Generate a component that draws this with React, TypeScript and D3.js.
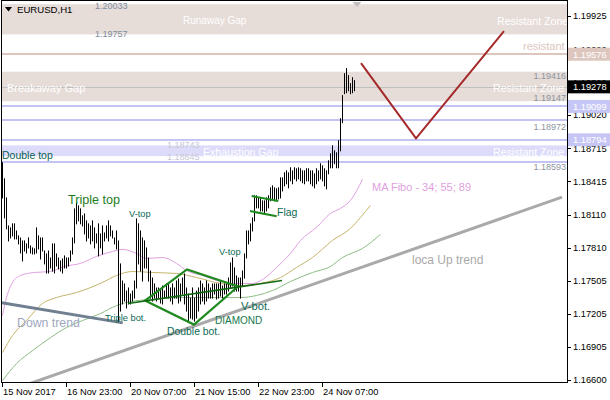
import React from "react";
import * as d3 from "d3";

const TIME_LABELS = ["15 Nov 2017", "16 Nov 23:00", "20 Nov 07:00", "21 Nov 15:00", "22 Nov 23:00", "24 Nov 07:00"];
const TIME_TICK_BARS = [0, 32, 64, 96, 128, 160];
const PRICE_TICKS = [1.19925, 1.1962, 1.1932, 1.1902, 1.18715, 1.18415, 1.1811, 1.1781, 1.17505, 1.17205, 1.16905, 1.166];

const HIGHS = [
  1.18589, 1.18442, 1.18268, 1.18012, 1.17994, 1.18031, 1.18031, 1.17966, 1.17921, 1.17902,
  1.17875, 1.17875, 1.17848, 1.17902, 1.17829, 1.17811, 1.17802, 1.17994, 1.17921, 1.17902,
  1.17902, 1.17783, 1.17756, 1.17783, 1.17719, 1.17848, 1.17848, 1.17756, 1.17719, 1.17692,
  1.1771, 1.17738, 1.17719, 1.17719, 1.17783, 1.17902, 1.18168, 1.18223, 1.18195, 1.18168,
  1.18104, 1.18122, 1.18058, 1.18031, 1.18012, 1.18058, 1.17994, 1.17939, 1.18031, 1.17939,
  1.18012, 1.17948, 1.18012, 1.18058, 1.18012, 1.17966, 1.17902, 1.17966, 1.17875, 1.17665,
  1.17509, 1.17482, 1.17417, 1.17445, 1.1739, 1.17417, 1.17509, 1.18076, 1.18031, 1.17966,
  1.17902, 1.17875, 1.17811, 1.17719, 1.176, 1.17536, 1.17482, 1.17445, 1.17445, 1.17436,
  1.17463, 1.17417, 1.17482, 1.17482, 1.17445, 1.17482, 1.17445, 1.17509, 1.17527, 1.17482,
  1.17536, 1.17573, 1.17445, 1.1739, 1.17353, 1.17445, 1.17353, 1.17417, 1.17445, 1.17509,
  1.17482, 1.17445, 1.17509, 1.17482, 1.17445, 1.17482, 1.17482, 1.17482, 1.17482, 1.17509,
  1.17463, 1.17482, 1.17482, 1.17536, 1.17674, 1.17719, 1.17628, 1.17555, 1.17536, 1.17536,
  1.176, 1.17756, 1.17966, 1.17966, 1.18031, 1.18085, 1.18287, 1.18287, 1.18268, 1.18268,
  1.18241, 1.18241, 1.18268, 1.18287, 1.1836, 1.18378, 1.1836, 1.18351, 1.1836, 1.18451,
  1.18451, 1.18497, 1.18515, 1.18497, 1.18543, 1.18515, 1.18543, 1.18534, 1.18543, 1.18534,
  1.18515, 1.18515, 1.18534, 1.18534, 1.18515, 1.18515, 1.18488, 1.18534, 1.18515, 1.1858,
  1.18561, 1.18534, 1.18515, 1.18607, 1.18671, 1.18744, 1.18698, 1.1868, 1.1879, 1.18991,
  1.19202, 1.19403, 1.19449, 1.19385, 1.19312, 1.19366, 1.19339,
];
const LOWS = [
  1.18268, 1.18085, 1.17985, 1.17875, 1.17902, 1.17921, 1.17893, 1.17893, 1.17848, 1.17765,
  1.17692, 1.17783, 1.17765, 1.17811, 1.17765, 1.17756, 1.17756, 1.17765, 1.17802, 1.1771,
  1.17783, 1.17665, 1.17582, 1.17582, 1.17628, 1.176, 1.17582, 1.17646, 1.17619, 1.176,
  1.17582, 1.17628, 1.17628, 1.17646, 1.17692, 1.17756, 1.17857, 1.18031, 1.18058, 1.18031,
  1.18012, 1.17939, 1.17875, 1.17902, 1.17848, 1.17875, 1.17811, 1.17857, 1.17738, 1.17811,
  1.17756, 1.17875, 1.17902, 1.17875, 1.17921, 1.17902, 1.17848, 1.17802, 1.17143, 1.17234,
  1.17299, 1.17326, 1.17262, 1.17299, 1.17299, 1.17326, 1.17353, 1.17445, 1.17665, 1.176,
  1.17509, 1.17628, 1.17628, 1.17509, 1.17353, 1.17326, 1.17353, 1.17326, 1.17353, 1.17308,
  1.17299, 1.17353, 1.17353, 1.17353, 1.17326, 1.17299, 1.17353, 1.17353, 1.17308, 1.17326,
  1.1739, 1.17299, 1.17234, 1.17143, 1.1717, 1.17161, 1.17143, 1.1717, 1.17234, 1.17299,
  1.17326, 1.17299, 1.17326, 1.17353, 1.17353, 1.17353, 1.1739, 1.17344, 1.17353, 1.17372,
  1.17353, 1.1739, 1.1739, 1.17417, 1.17445, 1.17463, 1.17417, 1.17417, 1.17417, 1.17353,
  1.17463, 1.17536, 1.17719, 1.17848, 1.17875, 1.17966, 1.18058, 1.18177, 1.18177, 1.18149,
  1.18149, 1.18131, 1.18149, 1.18177, 1.18241, 1.18259, 1.18241, 1.18241, 1.18259, 1.18268,
  1.18332, 1.18378, 1.18397, 1.1836, 1.18424, 1.18397, 1.18442, 1.18424, 1.18442, 1.18424,
  1.18406, 1.18397, 1.18424, 1.18424, 1.18397, 1.18378, 1.1836, 1.18397, 1.18424, 1.18442,
  1.18424, 1.18378, 1.18351, 1.18488, 1.18543, 1.18543, 1.1858, 1.18543, 1.18543, 1.18698,
  1.18955, 1.1922, 1.19229, 1.19247, 1.1922, 1.19229, 1.19247,
];

// Moving averages [bar index, price]
const MA_34 = [[0, 1.17189], [2, 1.17353], [5, 1.17491], [9, 1.17555], [16, 1.17582], [24, 1.17591], [31, 1.17637], [39, 1.17665], [47, 1.17729], [55, 1.17774], [60, 1.17793], [67, 1.17756], [72, 1.1771], [80, 1.17719], [87, 1.17665], [92, 1.176], [100, 1.17555], [107, 1.17509], [117, 1.17482], [125, 1.17482], [130, 1.17518], [137, 1.17628], [144, 1.17756], [149, 1.17875], [157, 1.17994], [164, 1.18122], [169, 1.18168], [174, 1.18241], [180, 1.18433]];
const MA_55 = [[0, 1.1685], [5, 1.17006], [12, 1.17143], [20, 1.17299], [27, 1.17353], [37, 1.17399], [50, 1.17491], [57, 1.17555], [65, 1.17591], [75, 1.17582], [87, 1.17573], [97, 1.17536], [109, 1.17482], [119, 1.17463], [129, 1.17482], [139, 1.17536], [147, 1.17628], [155, 1.17719], [165, 1.17875], [174, 1.17985], [179, 1.18085], [184, 1.18195]];
const MA_89 = [[0, 1.16594], [7, 1.1675], [15, 1.16868], [24, 1.16987], [32, 1.17079], [40, 1.17143], [49, 1.17207], [57, 1.1728], [64, 1.17317], [74, 1.17335], [89, 1.17353], [119, 1.17353], [127, 1.17372], [135, 1.17417], [144, 1.175], [155, 1.17582], [164, 1.17637], [170, 1.17719], [180, 1.17802], [189, 1.1793]];

// Chart objects [bar index, price]
const DIAMOND = [[71.25, 1.17326], [92.25, 1.1761], [117.75, 1.17454], [95.75, 1.17106]];
const NECKLINE = [[62.75, 1.17299], [139.75, 1.17509]];
const FLAG_UPPER = [[124.6, 1.1828], [137.9, 1.18235]];
const FLAG_LOWER = [[123.75, 1.18143], [137.1, 1.18095]];
const DOWN_TREND = [[-0.4, 1.17305], [60.1, 1.17122]];
const UP_TREND = [[10, 1.16544], [279.75, 1.18271]];
const FORECAST_V = [[179.25, 1.19495], [206.75, 1.18808], [250.75, 1.19787]];

const BAND_NAMES = ["Runaway Gap", "Breakaway Gap", "Exhaustion  Gap"];
const BAND_TOP = [1.20033, 1.19416, 1.18743];
const BAND_BOTTOM = [1.19757, 1.19147, 1.18645];
const RESISTANT = 1.19576;
const BLUE_LINES = [1.19099, 1.18972, 1.18794, 1.18593];
const CURRENT = 1.19278;

export default function App() {
  const W = 610, H = 400;
  const L = 1, R = 567, T = 1, B = 382;
  const x = d3.scaleLinear().domain([0, 282]).range([2.5, 566.5]);
  const y = d3.scaleLinear().domain([1.166, 1.19925]).range([380, 16]);
  const straight = d3.line<number[]>().x((d) => x(d[0])).y((d) => y(d[1]));
  const smooth = d3.line<number[]>().x((d) => x(d[0])).y((d) => y(d[1])).curve(d3.curveMonotoneX);
  const font = "'Liberation Sans', Arial, sans-serif";
  const fmt = d3.format(".5f");
  const taupe = "#e6dcd8";
  const lavBand = "#dcdcfa";
  const lavLine = "#c4c4f4";
  const resistCol = "#dcc6be";
  const green = "#1f8a1f";
  const labelCol = "#0d6a55";
  const grayLbl = "#8c949e";
  const bandFill = [taupe, taupe, lavBand];
  const bandTextX = [183, 7, 203];
  const bandTextSize = [10, 11, 10.6];
  const zoneX = [497, 493, 493];

  const boxes = [
    { p: RESISTANT, fill: resistCol },
    { p: CURRENT, fill: "#000000" },
    { p: BLUE_LINES[0], fill: "#c6c6f6" },
    { p: BLUE_LINES[2], fill: "#c6c6f6" },
  ];

  return (
    <div style={{ position: "fixed", left: 0, top: 0 }}>
      <svg width={W} height={H} style={{ display: "block", fontFamily: font }}>
        <defs>
          <clipPath id="plot">
            <rect x={L} y={T} width={R - L} height={B - T} />
          </clipPath>
        </defs>
        <rect x={0} y={0} width={W} height={H} fill="#ffffff" />
        <g clipPath="url(#plot)">
          {/* bands */}
          {BAND_NAMES.map((n, k) => (
            <rect key={n} x={L} y={y(BAND_TOP[k])} width={R - L} height={y(BAND_BOTTOM[k]) - y(BAND_TOP[k])} fill={bandFill[k]} />
          ))}
          {/* horizontal lines */}
          <rect x={L} y={Math.round(y(RESISTANT)) - 1} width={R - L} height={2} fill={resistCol} />
          {BLUE_LINES.map((p) => (
            <rect key={p} x={L} y={Math.round(y(p)) - 1} width={R - L} height={2} fill={lavLine} />
          ))}
          <line x1={L} x2={R} y1={Math.round(y(CURRENT)) + 0.5} y2={Math.round(y(CURRENT)) + 0.5} stroke="#c0c0c0" strokeWidth={1} />

          {/* band texts */}
          {BAND_NAMES.map((n, k) => (
            <text key={"t" + n} x={bandTextX[k]} y={(y(BAND_TOP[k]) + y(BAND_BOTTOM[k])) / 2 + 1.5} fontSize={bandTextSize[k]} fill="#ffffff" dominantBaseline="central">{n}</text>
          ))}
          {BAND_NAMES.map((n, k) => (
            <text key={"z" + n} x={zoneX[k]} y={(y(BAND_TOP[k]) + y(BAND_BOTTOM[k])) / 2 + 1.5} fontSize={10.6} fill="#ffffff" dominantBaseline="central">Resistant Zone</text>
          ))}
          <text x={523} y={y(RESISTANT) - 8} fontSize={11} fill={resistCol} dominantBaseline="central">resistant</text>

          {/* price labels of objects */}
          <text x={95} y={y(BAND_TOP[0]) + 2} fontSize={9} fill="#7d8ca0" dominantBaseline="central">{fmt(BAND_TOP[0])}</text>
          <text x={95} y={y(BAND_BOTTOM[0])} fontSize={9} fill="#7d8ca0" dominantBaseline="central">{fmt(BAND_BOTTOM[0])}</text>
          <text x={566} y={y(BAND_TOP[1]) + 4.5} fontSize={9} fill={grayLbl} textAnchor="end" dominantBaseline="central">{fmt(BAND_TOP[1])}</text>
          <text x={566} y={y(BAND_BOTTOM[1]) - 3} fontSize={9} fill={grayLbl} textAnchor="end" dominantBaseline="central">{fmt(BAND_BOTTOM[1])}</text>
          <text x={566} y={y(BLUE_LINES[1]) + 7} fontSize={9} fill={grayLbl} textAnchor="end" dominantBaseline="central">{fmt(BLUE_LINES[1])}</text>
          <text x={566} y={y(BLUE_LINES[3]) + 5.5} fontSize={9} fill={grayLbl} textAnchor="end" dominantBaseline="central">{fmt(BLUE_LINES[3])}</text>
          <text x={167} y={y(BAND_TOP[2])} fontSize={9} fill="#c8c8d6" dominantBaseline="central">{fmt(BAND_TOP[2])}</text>
          <text x={167} y={y(BAND_BOTTOM[2]) + 1} fontSize={9} fill="#c8c8d6" dominantBaseline="central">{fmt(BAND_BOTTOM[2])}</text>

          {/* moving averages */}
          <path d={smooth(MA_34) || ""} fill="none" stroke="#e0a0e0" strokeWidth={1} />
          <path d={smooth(MA_55) || ""} fill="none" stroke="#c4b46a" strokeWidth={1} />
          <path d={smooth(MA_89) || ""} fill="none" stroke="#8cbc84" strokeWidth={1} />
          <text x={372} y={187} fontSize={11} fill="#e0a0e0" dominantBaseline="central">MA Fibo - 34; 55; 89</text>

          {/* trend lines */}
          <path d={straight(UP_TREND) || ""} fill="none" stroke="#a9a9a9" strokeWidth={3} />
          <path d={straight(DOWN_TREND) || ""} fill="none" stroke="#708090" strokeWidth={3} />
          <text x={412} y={260} fontSize={12} fill="#a9a9a9" dominantBaseline="central">loca Up trend</text>
          <text x={17} y={323} fontSize={12.3} fill="#a0a8c0" dominantBaseline="central">Down trend</text>

          {/* bars */}
          {HIGHS.map((h, i) => {
            const xx = Math.floor(x(i)) + 0.5;
            return <line key={i} x1={xx} x2={xx} y1={y(h)} y2={y(LOWS[i]) + 1} stroke="#000000" strokeWidth={1} />;
          })}

          {/* patterns */}
          <path d={(straight(DIAMOND) || "") + "Z"} fill="none" stroke={green} strokeWidth={2.2} />
          <path d={straight(NECKLINE) || ""} fill="none" stroke="#106810" strokeWidth={1.5} />
          <path d={straight(FLAG_UPPER) || ""} fill="none" stroke={green} strokeWidth={2} />
          <path d={straight(FLAG_LOWER) || ""} fill="none" stroke={green} strokeWidth={2} />
          <path d={straight(FORECAST_V) || ""} fill="none" stroke="#a52a2a" strokeWidth={2} />

          <text x={2} y={155} fontSize={10.5} fill="#0a5f55" dominantBaseline="central">Double top</text>
          <text x={68} y={200} fontSize={12.6} fill="#1d7d1d" dominantBaseline="central">Triple top</text>
          <text x={129} y={214} fontSize={9.3} fill={labelCol} dominantBaseline="central">V-top</text>
          <text x={219} y={252} fontSize={9.3} fill={labelCol} dominantBaseline="central">V-top</text>
          <text x={277} y={212} fontSize={10.5} fill={labelCol} dominantBaseline="central">Flag</text>
          <text x={105} y={318} fontSize={9.3} fill={labelCol} dominantBaseline="central">Triple bot.</text>
          <text x={167} y={331} fontSize={10.4} fill={labelCol} dominantBaseline="central">Double bot.</text>
          <text x={215} y={320} fontSize={10} fill="#15784a" dominantBaseline="central">DIAMOND</text>
          <text x={241} y={306} fontSize={11.2} fill={labelCol} dominantBaseline="central">V-bot.</text>
        </g>

        {/* chart header */}
        <polygon points="5,7 12,7 8.5,11.5" fill="#000000" />
        <text x={17} y={9.5} fontSize={9.6} fill="#000000" dominantBaseline="central">EURUSD,H1</text>
        <polygon points="352.5,2 361.5,2 357,7" fill="#c0c0c0" />

        {/* frame */}
        <rect x={L + 0.5} y={T - 0.5} width={R - L} height={B - T + 1} fill="none" stroke="#000000" strokeWidth={1} />

        {/* price axis */}
        {PRICE_TICKS.map((p) => (
          <g key={p}>
            <line x1={R} x2={R + 4} y1={Math.round(y(p)) + 0.5} y2={Math.round(y(p)) + 0.5} stroke="#000000" />
            <text x={573} y={y(p) + 3.3} fontSize={9.3} fill="#000000">{fmt(p)}</text>
          </g>
        ))}
        {boxes.map((b) => (
          <g key={"b" + b.p}>
            <rect x={568} y={y(b.p) - 6.5} width={42} height={13} fill={b.fill} />
            <text x={573} y={y(b.p) + 3.3} fontSize={9.3} fill="#ffffff">{fmt(b.p)}</text>
          </g>
        ))}

        {/* time axis */}
        {TIME_TICK_BARS.map((idx, k) => {
          const xx = Math.floor(x(idx)) + 0.5;
          return (
            <g key={idx}>
              <line x1={xx} x2={xx} y1={B} y2={B + 5} stroke="#000000" />
              <text x={xx + 0.5} y={395} fontSize={9.3} fill="#000000">{TIME_LABELS[k]}</text>
            </g>
          );
        })}
      </svg>
    </div>
  );
}
